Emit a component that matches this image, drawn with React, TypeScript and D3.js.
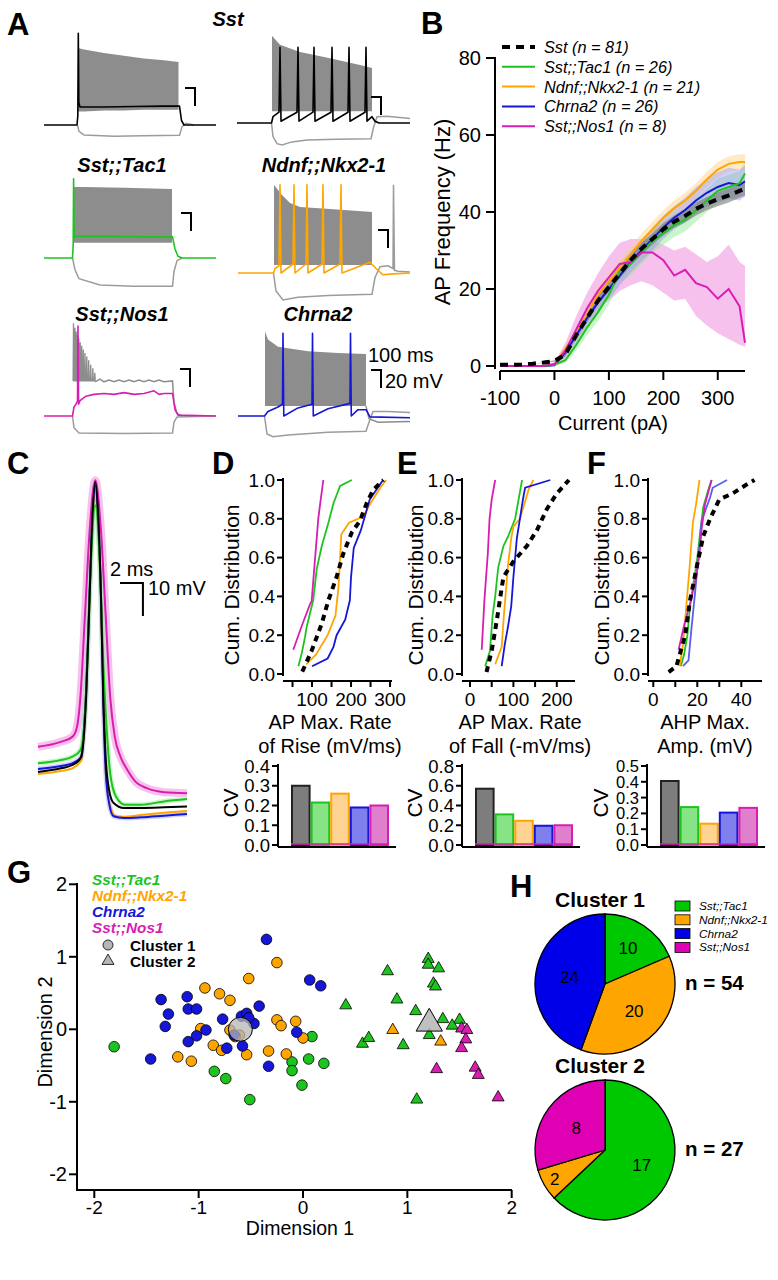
import React from 'react';
import * as d3 from 'd3';

type Pt = [number, number];
type Band = [number, number, number];

const FONT = "'Liberation Sans', Arial, Helvetica, sans-serif";
const GREEN = '#1ec41e';
const ORANGE = '#ffa500';
const BLUE = '#1616d8';
const MAGENTA = '#d81eb2';
const TRACE_GRAY = '#8d8d8d';
const HYPER_GRAY = '#9c9c9c';

// ---------------- A: example traces (t in ms, v in mV) ----------------
const sstLeftBurst: Band[] = [[340, -50, 20.5], [400, -50, 19], [600, -49, 15], [800, -49, 12], [1000, -48, 9], [1200, -48, 7], [1345, -48, 5]];
const sstLeftMain: Pt[] = [[0, -65], [330, -65], [338, -55], [343, 37], [348, -40], [360, -45], [600, -45], [900, -44.5], [1200, -44], [1355, -44], [1375, -60], [1400, -65], [1720, -65]];
const sstLeftHyper: Pt[] = [[335, -65], [350, -72], [400, -76], [700, -77.5], [1000, -77], [1355, -76.5], [1380, -67], [1420, -63], [1500, -65]];

const sstRightBurst: Band[] = [[350, -52, 32], [380, -52, 28], [430, -52, 22], [630, -52, 14], [930, -52, 7], [1230, -52, -0.5], [1350, -52, -4]];
const sstRightMain: Pt[] = [[0, -65], [345, -65], [360, -58], [420, -53], [430, 19], [440, -63], [600, -53], [610, 19], [620, -63], [760, -53], [770, 19], [780, -63], [940, -53], [950, 19], [960, -63], [1110, -53], [1120, 19], [1130, -63], [1280, -53], [1290, 19], [1300, -63], [1350, -58], [1380, -63], [1420, -65], [1730, -65]];
const sstRightHyper: Pt[] = [[345, -65], [360, -80], [400, -88], [450, -89.5], [550, -86], [700, -84], [1000, -83], [1340, -82.5], [1365, -70], [1400, -58], [1500, -57.5], [1730, -60]];

const tac1Burst: Band[] = [[290, -48, 14], [400, -48, 14], [800, -48, 13], [1280, -48, 11.7]];
const tac1Main: Pt[] = [[0, -65], [285, -65], [292, -50], [296, 23], [300, -30], [305, -42], [330, -41], [700, -41], [1000, -41.5], [1285, -41.5], [1310, -55], [1340, -63], [1380, -65], [1720, -65]];
const tac1Hyper: Pt[] = [[285, -65], [310, -78], [350, -88], [560, -95], [900, -96.5], [1285, -96.5], [1300, -80], [1330, -68], [1380, -65]];

const ndnfBurst: Band[] = [[360, -56, 32.8], [440, -56, 21.7], [520, -56, 12.8], [620, -56, 8.3], [920, -56, 6], [1340, -56, 2.8]];
const ndnfMain: Pt[] = [[0, -65], [355, -65], [370, -60], [410, -57], [420, 33], [430, -65], [550, -55], [560, 33], [570, -65], [680, -55], [690, 33], [700, -65], [840, -55], [850, 33], [860, -65], [1020, -55], [1030, 33], [1040, -65], [1320, -53], [1380, -60], [1450, -67], [1550, -66], [1720, -65]];
const ndnfHyper: Pt[] = [[355, -65], [380, -85], [450, -95], [600, -92], [900, -90], [1340, -88.5], [1370, -70], [1420, -58], [1500, -57], [1550, -60], [1555, 33], [1565, -62], [1600, -63], [1720, -64]];

// Sst;;Nos1 gray trace: spike times (ms) with peak voltage (mV), then the plateau
const nos1BurstSpikes: Pt[] = [[295, 38], [309, 33], [322, 29], [335, 25], [348, 21], [362, 17], [377, 13], [393, 9], [410, 5], [428, 1], [447, -3], [467, -8], [488, -12], [508, -17]];
const nos1BurstTrough = -26;
const nos1Plateau: Pt[] = [[510, -27], [560, -24], [600, -27], [650, -25], [700, -27], [750, -25], [800, -27], [850, -25], [900, -27], [950, -25], [1000, -27], [1050, -25], [1100, -27], [1150, -25], [1200, -27], [1285, -26], [1300, -50], [1330, -62], [1380, -65]];
const nos1Main: Pt[] = [[0, -65], [285, -65], [300, -55], [320, -52], [335, -48], [340, 35], [346, -52], [360, -48], [420, -43], [500, -41], [600, -40], [700, -41], [800, -39], [900, -41], [1000, -40], [1100, -37], [1150, -41], [1200, -40], [1285, -40], [1310, -58], [1340, -64], [1720, -65]];
const nos1Hyper: Pt[] = [[285, -65], [300, -78], [350, -84], [800, -84.5], [1285, -84], [1300, -72], [1330, -66], [1720, -65]];

const chrna2Burst: Band[] = [[270, -54, 29], [300, -54, 20], [400, -54, 12], [700, -54, 7], [1000, -54, 5], [1280, -54, 4]];
const chrna2After: Pt[] = [[1280, -54], [1310, -68], [1400, -72], [1720, -71]];
const chrna2Main: Pt[] = [[0, -65], [265, -65], [300, -60], [400, -55], [445, -52], [450, 27], [458, -65], [600, -56], [740, -52], [745, 27], [753, -65], [900, -57], [1120, -51], [1125, 27], [1133, -65], [1200, -58], [1280, -58], [1320, -66], [1720, -67]];
const chrna2Hyper: Pt[] = [[265, -65], [290, -85], [350, -88], [500, -86], [900, -83], [1280, -82], [1310, -72], [1350, -60], [1500, -60], [1720, -61]];

const traceTitles = ['Sst;;Tac1', 'Ndnf;;Nkx2-1', 'Sst;;Nos1', 'Chrna2'];

// ---------------- B: f-I curves ----------------
const currentPA = [-100, -80, -60, -40, -20, 0, 20, 40, 60, 80, 100, 120, 140, 160, 180, 200, 220, 240, 260, 280, 300, 320, 340, 350];
const sstFreq = [0.3, 0.3, 0.4, 0.6, 0.9, 1.3, 3, 8, 12.5, 17, 20.5, 24, 27.5, 30.5, 33, 35.5, 37.5, 39, 40.8, 42.2, 43.3, 44.3, 45.5, 46];
const sstSem = [0, 0, 0, 0, 0.1, 0.2, 0.5, 0.8, 1, 1.1, 1.2, 1.3, 1.4, 1.5, 1.5, 1.6, 1.6, 1.7, 1.7, 1.7, 1.8, 1.8, 1.8, 1.8];
const tac1Freq = [0, 0, 0, 0, 0, 0.3, 1.5, 5.5, 10, 14, 18.5, 24.5, 26.5, 29.5, 32.5, 34.5, 36.5, 38, 40.5, 43, 45.5, 46.5, 47.5, 50];
const tac1Sem = [0, 0, 0, 0, 0, 0.2, 0.8, 1.5, 2, 2.3, 2.5, 2.8, 3, 3, 3, 3, 3, 3, 3, 3, 3.2, 3.2, 3.2, 3.2];
const ndnfFreq = [0, 0, 0, 0, 0, 0.3, 4.5, 8.5, 13.5, 18.5, 22, 25.5, 29, 32.5, 35.5, 38.5, 41, 43, 45.5, 48.5, 51, 52.5, 53, 53];
const ndnfSem = [0, 0, 0, 0, 0, 0.2, 1, 1.5, 1.8, 2, 2, 2, 2, 2, 2, 2, 2, 2, 2, 2, 2, 2, 2, 2];
const chrna2Freq = [0, 0, 0, 0, 0, 0.2, 3.5, 8, 12.5, 16.5, 20, 23.5, 27, 30, 33, 36, 38.5, 40.5, 43, 45, 46.5, 47.5, 47, 48];
const chrna2Sem = [0, 0, 0, 0, 0, 0.2, 1, 1.5, 2, 2.2, 2.5, 2.6, 2.7, 2.8, 3, 3, 3, 3.2, 3.4, 3.6, 3.8, 4, 4, 4];
const nos1Freq = [0, 0, 0, 0, 0, 0.5, 4, 9.5, 15, 19.5, 23, 26.5, 27, 29.5, 29.5, 27.5, 23.5, 25, 21.5, 20.5, 17.5, 20, 15.5, 6];
const nos1Lo = [0, 0, 0, 0, 0, 0, 2, 6, 11, 15, 17, 19.5, 21, 22, 21, 19, 17, 17.5, 13, 10.5, 8.5, 7, 5.5, 5];
const nos1Hi = [0, 0, 0, 0, 0, 1, 6, 13, 19, 24, 28.5, 32, 33, 33, 32.5, 31.5, 30, 31, 29, 27, 28.5, 31.5, 27, 26];
const bLegend = ['Sst (n = 81)', 'Sst;;Tac1 (n = 26)', 'Ndnf;;Nkx2-1 (n = 21)', 'Chrna2 (n = 26)', 'Sst;;Nos1 (n = 8)'];
const bYTicks = [0, 20, 40, 60, 80];
const bXTicks = [-100, 0, 100, 200, 300];

// ---------------- C: average spike waveforms ----------------
const spikeSst: Pt[] = [[-5, -62.6], [-3, -61.5], [-2, -60.5], [-1.3, -58.5], [-1.0, -52], [-0.8, -40], [-0.5, -10], [-0.25, 15], [0, 25], [0.25, 15], [0.5, -10], [0.7, -40], [0.9, -58], [1.2, -68], [1.6, -72], [2.5, -73.5], [4, -73.5], [6, -73.3], [8, -73]];
const spikeNos1: Pt[] = [[-5, -55], [-3, -53.5], [-2, -52], [-1.6, -49], [-1.3, -40], [-0.9, -15], [-0.5, 10], [0, 25.5], [0.5, 10], [0.9, -15], [1.3, -40], [1.7, -52], [2.2, -58], [2.8, -62], [3.5, -65.5], [4.5, -67.5], [6, -68.7], [8, -69]];
const spikeTac1: Pt[] = [[-5, -60], [-3, -59], [-2, -58], [-1.3, -56], [-1.0, -50], [-0.75, -35], [-0.45, -5], [0, 18], [0.4, 0], [0.7, -30], [1.0, -50], [1.3, -63], [1.8, -70], [2.6, -72.5], [4, -72.5], [6, -71.5], [8, -70.8]];
const spikeChrna2: Pt[] = [[-5, -61.7], [-3, -60.8], [-2, -60], [-1.2, -58], [-1.0, -50], [-0.8, -38], [-0.5, -8], [-0.25, 14], [0, 24], [0.25, 14], [0.5, -10], [0.7, -42], [0.9, -62], [1.2, -72], [1.6, -76], [2.5, -76.5], [4, -76.3], [6, -75.8], [8, -75.3]];
const spikeNdnf: Pt[] = [[-5, -63.2], [-3, -62.3], [-2, -61.5], [-1.2, -59], [-1.0, -51], [-0.8, -38], [-0.5, -10], [-0.25, 12], [0, 22.6], [0.25, 12], [0.5, -12], [0.7, -42], [0.9, -62], [1.3, -73], [1.8, -76], [2.6, -76.2], [4, -75.6], [6, -74.9], [8, -74.4]];

// ---------------- D-F: cumulative distributions ----------------
const riseSst: Pt[] = [[75, 0.012], [99, 0.12], [125, 0.26], [142, 0.38], [163, 0.5], [180, 0.62], [202, 0.73], [223, 0.79], [240, 0.88], [257, 0.95], [283, 1.0]];
const riseTac1: Pt[] = [[65, 0.04], [74, 0.11], [82, 0.19], [86, 0.24], [103, 0.38], [112, 0.54], [125, 0.66], [142, 0.78], [155, 0.88], [172, 0.97], [202, 1.0]];
const riseNdnf: Pt[] = [[85, 0.05], [110, 0.1], [140, 0.2], [160, 0.3], [168, 0.45], [172, 0.6], [175, 0.72], [195, 0.78], [230, 0.81], [250, 0.88], [275, 0.96], [290, 1.0]];
const riseChrna2: Pt[] = [[100, 0.04], [140, 0.08], [155, 0.14], [163, 0.2], [185, 0.28], [197, 0.38], [200, 0.5], [207, 0.65], [225, 0.74], [238, 0.83], [248, 0.9], [265, 0.95], [282, 1.0]];
const riseNos1: Pt[] = [[52, 0.125], [74, 0.25], [95, 0.36], [99, 0.375], [108, 0.6], [116, 0.8], [121, 0.88], [129, 1.0]];

const fallSst: Pt[] = [[38, 0.01], [50, 0.12], [62, 0.28], [70, 0.4], [77, 0.5], [100, 0.58], [131, 0.66], [154, 0.74], [177, 0.85], [200, 0.93], [228, 1.0]];
const fallTac1: Pt[] = [[35, 0.04], [46, 0.12], [52, 0.3], [58, 0.4], [65, 0.55], [77, 0.66], [88, 0.71], [104, 0.8], [112, 0.9], [120, 1.0]];
const fallNdnf: Pt[] = [[58, 0.05], [73, 0.14], [78, 0.3], [81, 0.38], [88, 0.57], [95, 0.7], [100, 0.76], [115, 0.8], [123, 0.86], [135, 0.95], [146, 1.0]];
const fallChrna2: Pt[] = [[73, 0.04], [80, 0.15], [88, 0.25], [95, 0.35], [100, 0.5], [108, 0.7], [115, 0.8], [122, 0.9], [127, 0.96], [185, 1.0]];
const fallNos1: Pt[] = [[27, 0.125], [33, 0.375], [37, 0.5], [41, 0.62], [45, 0.8], [50, 0.9], [58, 1.0]];

const ahpSst: Pt[] = [[7, 0.01], [10.5, 0.04], [14.5, 0.2], [16.7, 0.38], [19.7, 0.55], [22.7, 0.71], [25.8, 0.8], [30, 0.9], [36, 0.93], [41.5, 0.97], [46, 1.0]];
const ahpTac1: Pt[] = [[12.5, 0.04], [14, 0.1], [15.5, 0.2], [16.7, 0.35], [18, 0.45], [19.7, 0.57], [21, 0.7], [22.7, 0.86], [25, 0.95], [26.5, 1.0]];
const ahpNdnf: Pt[] = [[12, 0.04], [13.5, 0.15], [15, 0.35], [16.5, 0.55], [18, 0.78], [19.5, 0.88], [21, 1.0]];
const ahpChrna2: Pt[] = [[13.5, 0.04], [16, 0.07], [17.4, 0.24], [19, 0.42], [20.5, 0.6], [22, 0.79], [25.8, 0.91], [27, 0.96], [33.5, 1.0]];
const ahpNos1: Pt[] = [[11.5, 0.125], [14, 0.25], [17, 0.375], [19.5, 0.5], [21, 0.62], [22, 0.75], [23.5, 0.875], [26.5, 1.0]];

const cumTicks = [0, 0.2, 0.4, 0.6, 0.8, 1.0];

// CV bars: Sst, Tac1, Ndnf, Chrna2, Nos1
const cvRise = [0.3, 0.215, 0.26, 0.19, 0.2];
const cvFall = [0.57, 0.31, 0.245, 0.195, 0.2];
const cvAhp = [0.405, 0.24, 0.135, 0.205, 0.235];

// ---------------- G: 2D embedding ----------------
const gTac1C1: Pt[] = [[-1.81, -0.24], [-0.85, -0.58], [-0.74, -0.68], [-0.51, -0.97], [-0.105, -0.45], [-0.105, -0.57], [-0.01, -0.77], [0.054, -0.41], [0.086, -0.1], [0.2, -0.47]];
const gNdnfC1: Pt[] = [[-0.25, 0.92], [-0.52, 0.7], [-0.94, 0.57], [-0.8, 0.49], [-0.7, 0.4], [-0.98, 0.01], [-0.61, -0.08], [-0.86, -0.22], [-0.78, -0.29], [-1.2, -0.38], [-1.07, -0.44], [-0.54, -0.35], [-0.33, -0.3], [-0.25, 0.13], [-0.21, 0.05], [-0.07, 0.11], [-0.16, -0.34], [0.0, -0.12], [-0.7, -0.01], [-0.65, -0.1]];
const gChrna2C1: Pt[] = [[-0.35, 1.24], [0.064, 0.68], [0.17, 0.6], [-1.36, 0.41], [-1.11, 0.45], [-1.29, 0.21], [-1.1, 0.28], [-1.02, 0.28], [-1.32, 0.04], [-0.93, -0.01], [-1.1, -0.17], [-1.02, -0.09], [-1.46, -0.41], [-0.77, 0.14], [-0.59, 0.18], [-0.54, 0.22], [-0.42, 0.32], [-0.47, 0.08], [-0.66, -0.08], [-0.73, -0.26], [-0.58, -0.23], [-0.33, -0.51], [-0.06, -0.04], [-0.52, 0.16]];
const gTac1C2: Pt[] = [[0.41, 0.33], [0.81, 0.8], [0.9, 0.41], [1.2, 0.97], [1.2, 0.89], [1.3, 0.84], [1.25, 0.63], [1.27, 0.59], [1.08, 0.25], [1.34, 0.14], [1.5, 0.13], [1.43, 0.05], [0.57, -0.2], [0.63, -0.12], [0.96, -0.22], [1.21, -0.08], [1.09, -0.97]];
const gNdnfC2: Pt[] = [[0.86, -0.01], [1.32, -0.17]];
const gNos1C2: Pt[] = [[1.52, 0.01], [1.57, -0.01], [1.56, -0.14], [1.52, -0.26], [1.28, -0.55], [1.65, -0.53], [1.68, -0.63], [1.87, -0.94]];
const gCentroids: Pt[] = [[-0.6, 0.0], [1.21, 0.08]];
const gTicks = [-2, -1, 0, 1, 2];
const gLegend = ['Sst;;Tac1', 'Ndnf;;Nkx2-1', 'Chrna2', 'Sst;;Nos1'];

// ---------------- H: cluster composition ----------------
const cluster1Counts = [10, 20, 24];
const cluster2Counts = [17, 2, 8];
const hLegend = ['Sst;;Tac1', 'Ndnf;;Nkx2-1', 'Chrna2', 'Sst;;Nos1'];

const groupColors = ['#000000', GREEN, ORANGE, BLUE, MAGENTA];
const cvFills = ['#7d7d7d', '#86e486', '#ffd391', '#7f7fee', '#e07fce'];

// ---------- helpers ----------
const tT = d3.scaleLinear().domain([0, 100]).range([0, 10]);
const tV = d3.scaleLinear().domain([-65, -45]).range([0, -18]);
const traceLine = d3.line<Pt>().x(d => tT(d[0])).y(d => tV(d[1]));
const traceArea = d3.area<Band>().x(d => tT(d[0])).y0(d => tV(d[1])).y1(d => tV(d[2]));

interface TraceProps {
  x0: number; y0: number; burst?: Band[]; burstLine?: Pt[]; main: Pt[]; hyper: Pt[]; extra?: Pt[]; color: string; barX: number; barY: number;
}

const Trace: React.FC<TraceProps> = ({ x0, y0, burst, burstLine, main, hyper, extra, color, barX, barY }) => (
  <g>
    <g transform={`translate(${x0},${y0})`}>
      {burst && <path d={traceArea(burst) || ''} fill={TRACE_GRAY} />}
      {burstLine && <path d={traceLine(burstLine) || ''} fill="none" stroke={TRACE_GRAY} strokeWidth={1.3} />}
      {extra && <path d={traceLine(extra) || ''} fill="none" stroke={TRACE_GRAY} strokeWidth={1.5} />}
      <path d={traceLine(hyper) || ''} fill="none" stroke={HYPER_GRAY} strokeWidth={1.5} />
      <path d={traceLine(main) || ''} fill="none" stroke={color} strokeWidth={1.6} strokeLinejoin="round" />
    </g>
    <path d={`M${barX},${barY}h${tT(100) - tT(0)}v${tV(-65) - tV(-45)}`} fill="none" stroke="#000" strokeWidth={2} />
  </g>
);

const PanelLetter: React.FC<{ x: number; y: number; t: string }> = ({ x, y, t }) => (
  <text x={x} y={y} fontSize={31} fontWeight="bold">{t}</text>
);

interface CumProps {
  axisX: number; xDomain: [number, number]; xEnd: number; xTicks: number[]; xLabels: number[];
  curves: Pt[][]; colors: string[]; title1: string; title2: string; titleX: number; labelX: number;
}

const cy = d3.scaleLinear().domain([0, 1]).range([674, 480]);

const CumPanel: React.FC<CumProps> = ({ axisX, xDomain, xEnd, xTicks, xLabels, curves, colors, title1, title2, titleX, labelX }) => {
  const x = d3.scaleLinear().domain(xDomain).range([axisX, xEnd]);
  const line = d3.line<Pt>().x(d => x(d[0])).y(d => cy(d[1]));
  return (
    <g>
      {curves.map((c, i) => i === 0 ? null : (
        <path key={i} d={line(c) || ''} fill="none" stroke={colors[i]} strokeWidth={1.8} />
      ))}
      <path d={line(curves[0]) || ''} fill="none" stroke="#000" strokeWidth={4} strokeDasharray="6,5" />
      <line x1={axisX} x2={axisX} y1={478} y2={676} stroke="#000" strokeWidth={2} />
      {cumTicks.map(t => (
        <g key={t}>
          <line x1={axisX - 6} x2={axisX} y1={cy(t)} y2={cy(t)} stroke="#000" strokeWidth={2} />
          <text x={axisX - 8} y={cy(t)} fontSize={19} textAnchor="end" dominantBaseline="central">{t.toFixed(1)}</text>
        </g>
      ))}
      <line x1={axisX} x2={xEnd} y1={681} y2={681} stroke="#000" strokeWidth={2} />
      {xTicks.map(t => (
        <line key={t} x1={x(t)} x2={x(t)} y1={681} y2={687} stroke="#000" strokeWidth={2} />
      ))}
      {xLabels.map(t => (
        <text key={t} x={x(t)} y={699} fontSize={19} textAnchor="middle" dominantBaseline="central">{t}</text>
      ))}
      <text x={titleX} y={722} fontSize={20} textAnchor="middle" dominantBaseline="central">{title1}</text>
      <text x={titleX} y={746} fontSize={20} textAnchor="middle" dominantBaseline="central">{title2}</text>
      <text transform={`translate(${labelX},585) rotate(-90)`} fontSize={21} textAnchor="middle" dominantBaseline="central">Cum. Distribution</text>
    </g>
  );
};

interface CvProps { axisX: number; yMax: number; step: number; values: number[]; labelX: number }

const CvPanel: React.FC<CvProps> = ({ axisX, yMax, step, values, labelX }) => {
  const y = d3.scaleLinear().domain([0, yMax]).range([845, 766]);
  const x = d3.scaleBand<number>().domain(values.map((_, i) => i)).range([axisX + 13, axisX + 111]).padding(0);
  const ticks = d3.range(0, yMax + step / 2, step);
  const fs = ticks.length > 5 ? 16.5 : 18.5;
  return (
    <g>
      {values.map((v, i) => (
        <rect key={i} x={x(i)! + 1} y={y(v)} width={x.bandwidth() - 2} height={y(0) - y(v)} fill={cvFills[i]} stroke={i === 0 ? '#222' : groupColors[i]} strokeWidth={2} />
      ))}
      <line x1={x(0)!} x2={x(4)! + x.bandwidth()} y1={y(0) - 1} y2={y(0) - 1} stroke={MAGENTA} strokeWidth={1.5} />
      <line x1={axisX} x2={axisX} y1={764} y2={847} stroke="#000" strokeWidth={2} />
      <line x1={axisX} x2={axisX + 118} y1={847} y2={847} stroke="#000" strokeWidth={2} />
      {ticks.map(t => (
        <g key={t}>
          <line x1={axisX - 6} x2={axisX} y1={y(t)} y2={y(t)} stroke="#000" strokeWidth={2} />
          <text x={axisX - 8} y={y(t)} fontSize={fs} textAnchor="end" dominantBaseline="central">{t.toFixed(1)}</text>
        </g>
      ))}
      <text transform={`translate(${labelX},803) rotate(-90)`} fontSize={21} textAnchor="middle" dominantBaseline="central">CV</text>
    </g>
  );
};

const PanelB: React.FC = () => {
  const x = d3.scaleLinear().domain([-100, 350]).range([500, 745]);
  const y = d3.scaleLinear().domain([0, 80]).range([366, 58]);
  const idx = currentPA.map((_, i) => i);
  const mk = (vals: number[]) => d3.line<number>().x(i => x(currentPA[i])).y(i => y(vals[i]))(idx) || '';
  const band = (lo: number[], hi: number[]) =>
    d3.area<number>().x(i => x(currentPA[i])).y0(i => y(Math.max(0, lo[i]))).y1(i => y(hi[i]))(idx) || '';
  const pm = (m: number[], s: number[], sign: number) => m.map((v, i) => v + sign * s[i]);
  const bandFills = ['#6e6e6e', '#8fe68f', '#ffcf80', '#9a9af2', '#f08ee0'];
  const legendColors = ['#000', GREEN, ORANGE, BLUE, MAGENTA];
  return (
    <g>
      <path d={band(nos1Lo, nos1Hi)} fill={bandFills[4]} opacity={0.55} />
      <path d={band(pm(tac1Freq, tac1Sem, -1), pm(tac1Freq, tac1Sem, 1))} fill={bandFills[1]} opacity={0.45} />
      <path d={band(pm(ndnfFreq, ndnfSem, -1), pm(ndnfFreq, ndnfSem, 1))} fill={bandFills[2]} opacity={0.45} />
      <path d={band(pm(chrna2Freq, chrna2Sem, -1), pm(chrna2Freq, chrna2Sem, 1))} fill={bandFills[3]} opacity={0.45} />
      <path d={band(pm(sstFreq, sstSem, -1), pm(sstFreq, sstSem, 1))} fill={bandFills[0]} opacity={0.55} />
      <path d={mk(ndnfFreq)} fill="none" stroke={ORANGE} strokeWidth={2} />
      <path d={mk(chrna2Freq)} fill="none" stroke={BLUE} strokeWidth={2} />
      <path d={mk(tac1Freq)} fill="none" stroke={GREEN} strokeWidth={2} />
      <path d={mk(nos1Freq)} fill="none" stroke={MAGENTA} strokeWidth={2} />
      <path d={mk(sstFreq)} fill="none" stroke="#000" strokeWidth={4} strokeDasharray="8,6" />
      {/* axes */}
      <line x1={495} x2={495} y1={57} y2={369} stroke="#000" strokeWidth={2} />
      {bYTicks.map(t => (
        <g key={t}>
          <line x1={486} x2={495} y1={y(t)} y2={y(t)} stroke="#000" strokeWidth={2} />
          <text x={481} y={y(t)} fontSize={20} textAnchor="end" dominantBaseline="central">{t}</text>
        </g>
      ))}
      <line x1={500} x2={745} y1={371} y2={371} stroke="#000" strokeWidth={2} />
      {bXTicks.map(t => (
        <g key={t}>
          <line x1={x(t)} x2={x(t)} y1={371} y2={380} stroke="#000" strokeWidth={2} />
          <text x={x(t)} y={398} fontSize={20} textAnchor="middle" dominantBaseline="central">{t}</text>
        </g>
      ))}
      <text x={613} y={423} fontSize={20} textAnchor="middle" dominantBaseline="central">Current (pA)</text>
      <text transform="translate(442,212) rotate(-90)" fontSize={22} textAnchor="middle" dominantBaseline="central">AP Frequency (Hz)</text>
      {bLegend.map((s, i) => (
        <g key={s} transform={`translate(0,${47 + i * 19.8})`}>
          <line x1={502} x2={535} y1={0} y2={0} stroke={legendColors[i]} strokeWidth={i === 0 ? 4 : 2} strokeDasharray={i === 0 ? '8,6' : undefined} />
          <text x={544} y={0} fontSize={16.3} fontStyle="italic" dominantBaseline="central">{s}</text>
        </g>
      ))}
    </g>
  );
};

const PanelC: React.FC = () => {
  const x = d3.scaleLinear().domain([-5, 8]).range([38, 187]);
  const y = d3.scaleLinear().domain([-75, 25]).range([813, 482]);
  const line = d3.line<Pt>().x(d => x(d[0])).y(d => y(d[1])).curve(d3.curveMonotoneX);
  const lines: [Pt[], string][] = [[spikeNdnf, ORANGE], [spikeChrna2, BLUE], [spikeTac1, GREEN], [spikeNos1, MAGENTA], [spikeSst, '#000']];
  const barX = 120;
  const barY = 583;
  return (
    <g>
      <path d={line(spikeNos1) || ''} fill="none" stroke="#f3a6e4" strokeWidth={8} opacity={0.7} />
      <path d={line(spikeChrna2) || ''} fill="none" stroke="#b8b8f6" strokeWidth={5} opacity={0.6} />
      <path d={line(spikeTac1) || ''} fill="none" stroke="#aef0ae" strokeWidth={5} opacity={0.6} />
      {lines.map(([d, c], i) => (
        <path key={i} d={line(d) || ''} fill="none" stroke={c} strokeWidth={2} />
      ))}
      <path d={`M${barX},${barY}h${x(2) - x(0)}v${y(-10) - y(0)}`} fill="none" stroke="#000" strokeWidth={2} />
      <text x={110} y={569} fontSize={20} dominantBaseline="central">2 ms</text>
      <text x={148} y={588} fontSize={20} dominantBaseline="central">10 mV</text>
    </g>
  );
};

const PanelG: React.FC = () => {
  const x = d3.scaleLinear().domain([-2, 2]).range([94.3, 511.7]);
  const y = d3.scaleLinear().domain([-2, 2]).range([1174.3, 884.3]);
  const tri = d3.symbol().type(d3.symbolTriangle).size(62)() || '';
  const bigTri = d3.symbol().type(d3.symbolTriangle).size(300)() || '';
  const legendColors = [GREEN, ORANGE, BLUE, MAGENTA];
  const circles: [Pt[], string][] = [[gTac1C1, GREEN], [gNdnfC1, ORANGE], [gChrna2C1, BLUE]];
  const tris: [Pt[], string][] = [[gTac1C2, GREEN], [gNdnfC2, ORANGE], [gNos1C2, MAGENTA]];
  return (
    <g>
      <line x1={77} x2={77} y1={883} y2={1191} stroke="#000" strokeWidth={2} />
      {gTicks.map(t => (
        <g key={'y' + t}>
          <line x1={69} x2={77} y1={y(t)} y2={y(t)} stroke="#000" strokeWidth={2} />
          <text x={67} y={y(t)} fontSize={20} textAnchor="end" dominantBaseline="central">{t}</text>
        </g>
      ))}
      <line x1={76} x2={512} y1={1190} y2={1190} stroke="#000" strokeWidth={2} />
      {gTicks.map(t => (
        <g key={'x' + t}>
          <line x1={x(t)} x2={x(t)} y1={1190} y2={1198} stroke="#000" strokeWidth={2} />
          <text x={x(t)} y={1207} fontSize={19} textAnchor="middle" dominantBaseline="central">{t}</text>
        </g>
      ))}
      <text x={300} y={1228} fontSize={19.5} textAnchor="middle" dominantBaseline="central">Dimension 1</text>
      <text transform={`translate(45,1032) rotate(-90)`} fontSize={20} textAnchor="middle" dominantBaseline="central">Dimension 2</text>
      {circles.map(([pts, c], k) => pts.map((p, i) => (
        <circle key={`c${k}-${i}`} cx={x(p[0])} cy={y(p[1])} r={5.3} fill={c} stroke="#000" strokeWidth={0.8} />
      )))}
      {tris.map(([pts, c], k) => pts.map((p, i) => (
        <path key={`t${k}-${i}`} d={tri} transform={`translate(${x(p[0])},${y(p[1])})`} fill={c} stroke="#000" strokeWidth={0.8} />
      )))}
      <circle cx={x(gCentroids[0][0])} cy={y(gCentroids[0][1])} r={12} fill="#b5b5b5" fillOpacity={0.75} stroke="#000" strokeWidth={1} />
      <path d={bigTri} transform={`translate(${x(gCentroids[1][0])},${y(gCentroids[1][1])})`} fill="#b5b5b5" fillOpacity={0.85} stroke="#000" strokeWidth={1} />
      {gLegend.map((s, i) => (
        <text key={s} x={92} y={879 + i * 16} fontSize={15.3} fontWeight="bold" fontStyle="italic" fill={legendColors[i]} dominantBaseline="central">{s}</text>
      ))}
      <circle cx={108} cy={945} r={5} fill="#b5b5b5" stroke="#000" strokeWidth={0.8} />
      <path d={tri} transform="translate(108,961)" fill="#b5b5b5" stroke="#000" strokeWidth={0.8} />
      <text x={130} y={945} fontSize={15.3} fontWeight="bold" dominantBaseline="central">Cluster 1</text>
      <text x={130} y={961} fontSize={15.3} fontWeight="bold" dominantBaseline="central">Cluster 2</text>
    </g>
  );
};

const Pie: React.FC<{ cx: number; cy: number; counts: number[]; colors: string[]; title: string; n: number; labelR: number[] }> = ({ cx, cy, counts, colors, title, n, labelR }) => {
  const r = 70;
  const arcs = d3.pie<number>().sort(null).value(d => d)(counts);
  const arc = d3.arc<d3.PieArcDatum<number>>().innerRadius(0).outerRadius(r);
  return (
    <g>
      <text x={cx - 5} y={cy - r - 15} fontSize={21} fontWeight="bold" textAnchor="middle" dominantBaseline="central">{title}</text>
      <g transform={`translate(${cx},${cy})`}>
        {arcs.map((a, i) => (
          <path key={i} d={arc(a) || ''} fill={colors[i]} stroke="#000" strokeWidth={1.3} />
        ))}
        {arcs.map((a, i) => {
          const c = d3.arc<d3.PieArcDatum<number>>().innerRadius(labelR[i]).outerRadius(labelR[i]).centroid(a);
          return <text key={'l' + i} x={c[0]} y={c[1]} fontSize={17} textAnchor="middle" dominantBaseline="central">{a.data}</text>;
        })}
      </g>
      <text x={cx + 80} y={cy - 2} fontSize={20.5} fontWeight="bold" dominantBaseline="central">{`n = ${n}`}</text>
    </g>
  );
};

const PIE_GREEN = '#00c800';
const PIE_BLUE = '#0000e8';
const PIE_MAGENTA = '#e000b4';

const App: React.FC = () => {
  const hColors = [PIE_GREEN, ORANGE, PIE_BLUE, PIE_MAGENTA];
  const nos1BurstLine: Pt[] = nos1BurstSpikes.flatMap(([t, v]) => [[t - 4, nos1BurstTrough], [t, v], [t + 4, nos1BurstTrough]] as Pt[]);
  return (
    <svg width={778} height={1280} style={{ position: 'absolute', left: 0, top: 0, background: '#fff' }} fontFamily={FONT}>
      {/* A */}
      <PanelLetter x={7} y={35} t="A" />
      <text x={228} y={19} fontSize={20} fontWeight="bold" fontStyle="italic" textAnchor="middle" dominantBaseline="central">Sst</text>
      <Trace x0={44} y0={125} burst={sstLeftBurst} main={sstLeftMain} hyper={sstLeftHyper} color="#000" barX={185} barY={88} />
      <Trace x0={237} y0={123} burst={sstRightBurst} main={sstRightMain} hyper={sstRightHyper} color="#000" barX={371} barY={97} />
      <text x={122} y={165} fontSize={20} fontWeight="bold" fontStyle="italic" textAnchor="middle" dominantBaseline="central">{traceTitles[0]}</text>
      <text x={324} y={165} fontSize={20} fontWeight="bold" fontStyle="italic" textAnchor="middle" dominantBaseline="central">{traceTitles[1]}</text>
      <Trace x0={44} y0={258} burst={tac1Burst} main={tac1Main} hyper={tac1Hyper} color={GREEN} barX={181} barY={213} />
      <Trace x0={238} y0={273} burst={ndnfBurst} main={ndnfMain} hyper={ndnfHyper} color={ORANGE} barX={378} barY={230} />
      <text x={122} y={314} fontSize={20} fontWeight="bold" fontStyle="italic" textAnchor="middle" dominantBaseline="central">{traceTitles[2]}</text>
      <text x={318} y={314} fontSize={20} fontWeight="bold" fontStyle="italic" textAnchor="middle" dominantBaseline="central">{traceTitles[3]}</text>
      <Trace x0={44} y0={416} burstLine={nos1BurstLine} main={nos1Main} hyper={nos1Hyper} extra={nos1Plateau} color={MAGENTA} barX={180} barY={369} />
      <Trace x0={238} y0={416} burst={chrna2Burst} main={chrna2Main} hyper={chrna2Hyper} extra={chrna2After} color={BLUE} barX={371} barY={370} />
      <text x={368} y={355} fontSize={20} dominantBaseline="central">100 ms</text>
      <text x={385} y={381} fontSize={20} dominantBaseline="central">20 mV</text>

      {/* B */}
      <PanelLetter x={421} y={34} t="B" />
      <PanelB />

      {/* C */}
      <PanelLetter x={7} y={474} t="C" />
      <PanelC />

      {/* D, E, F */}
      <PanelLetter x={212} y={474} t="D" />
      <PanelLetter x={397} y={474} t="E" />
      <PanelLetter x={587} y={474} t="F" />
      <CumPanel axisX={283} xDomain={[25.6, 305]} xEnd={392} xTicks={[50, 100, 150, 200, 250, 300]} xLabels={[100, 200, 300]}
        curves={[riseSst, riseTac1, riseNdnf, riseChrna2, riseNos1]} colors={groupColors}
        title1="AP Max. Rate" title2="of Rise (mV/ms)" titleX={330} labelX={231} />
      <CumPanel axisX={462} xDomain={[-18.5, 242]} xEnd={575} xTicks={[0, 50, 100, 150, 200]} xLabels={[0, 100, 200]}
        curves={[fallSst, fallTac1, fallNdnf, fallChrna2, fallNos1]} colors={groupColors}
        title1="AP Max. Rate" title2="of Fall (-mV/ms)" titleX={520} labelX={415} />
      <CumPanel axisX={648} xDomain={[-2.4, 49.4]} xEnd={762} xTicks={[0, 10, 20, 30, 40]} xLabels={[0, 20, 40]}
        curves={[ahpSst, ahpTac1, ahpNdnf, ahpChrna2, ahpNos1]} colors={['#000', GREEN, ORANGE, '#5c5cf0', MAGENTA]}
        title1="AHP Max." title2="Amp. (mV)" titleX={705} labelX={601} />
      <CvPanel axisX={278} yMax={0.4} step={0.1} values={cvRise} labelX={230} />
      <CvPanel axisX={462} yMax={0.8} step={0.2} values={cvFall} labelX={414} />
      <CvPanel axisX={647} yMax={0.5} step={0.1} values={cvAhp} labelX={600} />

      {/* G */}
      <PanelLetter x={7} y={883} t="G" />
      <PanelG />

      {/* H */}
      <PanelLetter x={510} y={897} t="H" />
      <Pie cx={605} cy={984} counts={cluster1Counts} colors={[PIE_GREEN, ORANGE, PIE_BLUE]} title="Cluster 1" n={54} labelR={[42, 40, 36]} />
      <Pie cx={605} cy={1150} counts={cluster2Counts} colors={[PIE_GREEN, ORANGE, PIE_MAGENTA]} title="Cluster 2" n={27} labelR={[40, 58, 36]} />
      {hLegend.map((s, i) => (
        <g key={s}>
          <rect x={675} y={901 + i * 13.8} width={15} height={10} fill={hColors[i]} stroke="#000" strokeWidth={0.8} />
          <text x={699} y={906 + i * 13.8} fontSize={11.8} fontStyle="italic" dominantBaseline="central">{s}</text>
        </g>
      ))}
    </svg>
  );
};

export default App;
